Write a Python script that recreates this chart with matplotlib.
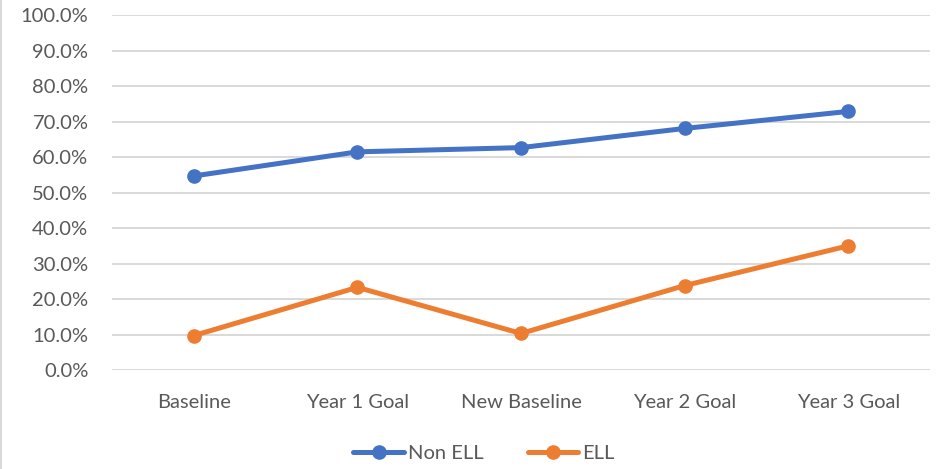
import matplotlib
matplotlib.use("Agg")
import matplotlib.pyplot as plt
from matplotlib.lines import Line2D
from matplotlib.ticker import PercentFormatter

## category labels along the x axis
categories = ["Baseline", "Year 1 Goal", "New Baseline", "Year 2 Goal", "Year 3 Goal"]
## series values, as fractions
non_ell = [0.547, 0.615, 0.627, 0.681, 0.729]
ell = [0.097, 0.233, 0.103, 0.238, 0.350]

plt.rcParams['font.family'] = ['Lato', 'DejaVu Sans']

fig = plt.figure(figsize=(9.42, 4.69), dpi=100)
ax = fig.add_axes([112 / 942, 1 - 370 / 469, 818 / 942, (370 - 15.3) / 469])

x = range(len(categories))
ax.plot(x, non_ell, color="#4472C4", lw=3.6, marker="o", ms=9.5, label="Non ELL",
        solid_capstyle="round", zorder=3)
ax.plot(x, ell, color="#ED7D31", lw=3.6, marker="o", ms=9.5, label="ELL",
        solid_capstyle="round", zorder=3)

## axis ranges and ticks
ax.set_xlim(-0.5, len(categories) - 0.5)
ax.set_ylim(0, 1.0)
ax.set_yticks([i / 10 for i in range(11)])
ax.yaxis.set_major_formatter(PercentFormatter(1.0, decimals=1))
ax.set_xticks(list(x))
ax.set_xticklabels(categories)

## gridlines only, no spines
ax.grid(axis="y", color="#D9D9D9", lw=1.4)
ax.set_axisbelow(True)
for s in ax.spines.values():
    s.set_visible(False)
ax.tick_params(axis="both", length=0, labelsize=14.5, colors="#595959")
ax.tick_params(axis="y", pad=17)
ax.tick_params(axis="x", pad=17)

leg = fig.legend(loc="center", bbox_to_anchor=(484 / 942, 1 - 453 / 469), ncol=2,
                 frameon=False, fontsize=14.5, handlelength=2.5, handletextpad=0.2,
                 columnspacing=2.2)
for t in leg.get_texts():
    t.set_color("#595959")

## thin border on the left edge of the chart area
fig.add_artist(Line2D([1 / 942, 1 / 942], [0, 1], color="#D9D9D9", lw=1.5,
                      transform=fig.transFigure))

fig.savefig("out.png", dpi=100)
